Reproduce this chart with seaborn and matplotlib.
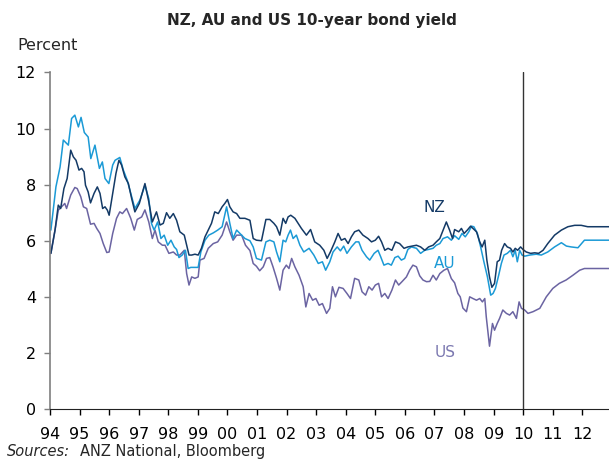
import pandas as pd
import matplotlib.pyplot as plt
import seaborn as sns

# NZ 10-year yield (decimal years)
nz_year = [1994.03, 1994.17, 1994.28, 1994.36, 1994.47, 1994.58, 1994.70, 1994.79, 1994.88, 1994.98,
           1995.07, 1995.15, 1995.20, 1995.29, 1995.37, 1995.49, 1995.60, 1995.69, 1995.78, 1995.86,
           1995.94, 1996.00, 1996.12, 1996.23, 1996.33, 1996.42, 1996.53, 1996.65, 1996.76, 1996.87,
           1997.02, 1997.21, 1997.34, 1997.46, 1997.60, 1997.72, 1997.83, 1997.94, 1998.05, 1998.17,
           1998.28, 1998.39, 1998.54, 1998.62, 1998.70, 1998.79, 1998.90, 1999.01, 1999.12, 1999.24,
           1999.35, 1999.46, 1999.57, 1999.69, 1999.82, 1999.91, 2000.00, 2000.08, 2000.19, 2000.31,
           2000.42, 2000.59, 2000.76, 2000.87, 2000.98, 2001.15, 2001.30, 2001.43, 2001.57, 2001.66,
           2001.77, 2001.88, 2001.97, 2002.05, 2002.14, 2002.28, 2002.39, 2002.50, 2002.67, 2002.81,
           2002.95, 2003.12, 2003.26, 2003.37, 2003.48, 2003.63, 2003.74, 2003.85, 2003.97, 2004.08,
           2004.19, 2004.30, 2004.44, 2004.58, 2004.75, 2004.87, 2005.00, 2005.11, 2005.21, 2005.32,
           2005.43, 2005.56, 2005.68, 2005.82, 2005.97, 2006.10, 2006.24, 2006.39, 2006.53, 2006.67,
           2006.80, 2006.95, 2007.06, 2007.18, 2007.29, 2007.40, 2007.51, 2007.61, 2007.68, 2007.82,
           2007.91, 2008.00, 2008.11, 2008.22, 2008.30, 2008.42, 2008.53, 2008.61, 2008.70, 2008.77,
           2008.86, 2008.94, 2009.03, 2009.12, 2009.20, 2009.27, 2009.37, 2009.46, 2009.57, 2009.65,
           2009.73, 2009.81, 2009.91, 2009.99, 2010.10, 2010.25, 2010.39, 2010.52, 2010.67, 2010.83,
           2011.06, 2011.29, 2011.51, 2011.74, 2011.96, 2012.18, 2012.90]
nz_yield = [5.55, 6.38, 7.27, 7.15, 7.86, 8.22, 9.23, 8.99, 8.87, 8.52,
            8.58, 8.46, 7.98, 7.74, 7.35, 7.69, 7.92, 7.69, 7.15, 7.21,
            7.09, 6.91, 7.69, 8.40, 8.87, 8.70, 8.28, 8.04, 7.51, 7.03,
            7.33, 8.04, 7.39, 6.67, 7.03, 6.56, 6.62, 7.00, 6.80, 6.97,
            6.73, 6.32, 6.20, 5.84, 5.49, 5.49, 5.52, 5.49, 5.73, 6.14,
            6.38, 6.62, 7.03, 6.97, 7.21, 7.33, 7.47, 7.21, 7.03, 6.97,
            6.80, 6.80, 6.73, 6.08, 6.02, 6.00, 6.76, 6.76, 6.62, 6.50,
            6.20, 6.80, 6.62, 6.85, 6.91, 6.80, 6.62, 6.44, 6.20, 6.40,
            5.96, 5.84, 5.66, 5.37, 5.60, 5.96, 6.26, 6.02, 6.08, 5.90,
            6.14, 6.32, 6.38, 6.20, 6.08, 5.96, 6.02, 6.16, 5.96, 5.66,
            5.73, 5.66, 5.96, 5.90, 5.73, 5.78, 5.81, 5.84, 5.78, 5.66,
            5.78, 5.84, 5.96, 6.08, 6.38, 6.67, 6.38, 6.08, 6.40, 6.32,
            6.44, 6.26, 6.38, 6.52, 6.44, 6.32, 5.96, 5.78, 6.02, 5.31,
            4.71, 4.34, 4.48, 5.25, 5.31, 5.66, 5.90, 5.78, 5.73, 5.60,
            5.73, 5.66, 5.78, 5.69, 5.60, 5.55, 5.57, 5.55, 5.66, 5.90,
            6.20, 6.38, 6.50, 6.55, 6.55, 6.50, 6.50]

# AU 10-year yield
au_year = [1994.03, 1994.20, 1994.34, 1994.45, 1994.62, 1994.73, 1994.84, 1994.96, 1995.05, 1995.16,
           1995.29, 1995.38, 1995.52, 1995.67, 1995.77, 1995.86, 1995.99, 1996.12, 1996.20, 1996.36,
           1996.48, 1996.61, 1996.73, 1996.87, 1997.04, 1997.21, 1997.34, 1997.43, 1997.52, 1997.64,
           1997.75, 1997.86, 1997.98, 1998.09, 1998.20, 1998.28, 1998.36, 1998.47, 1998.58, 1998.67,
           1998.76, 1998.87, 1999.01, 1999.10, 1999.24, 1999.37, 1999.52, 1999.67, 1999.82, 1999.97,
           2000.08, 2000.19, 2000.31, 2000.48, 2000.59, 2000.76, 2000.87, 2000.98, 2001.15, 2001.30,
           2001.43, 2001.57, 2001.66, 2001.77, 2001.88, 2001.97, 2002.05, 2002.13, 2002.22, 2002.33,
           2002.45, 2002.58, 2002.76, 2002.92, 2003.07, 2003.21, 2003.32, 2003.46, 2003.57, 2003.71,
           2003.82, 2003.93, 2004.04, 2004.19, 2004.34, 2004.44, 2004.55, 2004.70, 2004.81, 2004.96,
           2005.09, 2005.18, 2005.29, 2005.43, 2005.54, 2005.66, 2005.77, 2005.88, 2005.99, 2006.10,
           2006.22, 2006.39, 2006.53, 2006.67, 2006.80, 2006.95, 2007.06, 2007.18, 2007.29, 2007.44,
           2007.57, 2007.68, 2007.82, 2007.93, 2008.04, 2008.16, 2008.25, 2008.33, 2008.45, 2008.56,
           2008.67, 2008.79, 2008.90, 2008.98, 2009.06, 2009.17, 2009.26, 2009.35, 2009.46, 2009.57,
           2009.65, 2009.73, 2009.80, 2009.88, 2009.96, 2010.05, 2010.22, 2010.44, 2010.61, 2010.83,
           2011.06, 2011.29, 2011.46, 2011.62, 2011.85, 2012.07, 2012.90]
au_yield = [6.38, 7.92, 8.63, 9.59, 9.41, 10.36, 10.48, 10.06, 10.40, 9.86,
            9.70, 8.93, 9.41, 8.58, 8.81, 8.22, 8.04, 8.70, 8.87, 8.97,
            8.52, 8.16, 7.69, 7.15, 7.45, 7.98, 7.50, 6.62, 6.38, 6.67,
            6.08, 6.20, 5.84, 6.02, 5.78, 5.69, 5.40, 5.49, 5.66, 5.01,
            5.05, 5.05, 5.05, 5.60, 6.02, 6.20, 6.28, 6.38, 6.50, 7.21,
            6.62, 6.08, 6.38, 6.20, 6.08, 6.00, 5.78, 5.37, 5.31, 5.96,
            6.02, 5.96, 5.60, 5.25, 6.02, 5.96, 6.20, 6.38, 6.08, 6.20,
            5.84, 5.60, 5.73, 5.49, 5.19, 5.25, 4.95, 5.25, 5.60, 5.78,
            5.64, 5.81, 5.55, 5.78, 5.96, 5.96, 5.66, 5.43, 5.31, 5.55,
            5.66, 5.43, 5.13, 5.19, 5.13, 5.40, 5.45, 5.31, 5.37, 5.69,
            5.78, 5.73, 5.55, 5.66, 5.69, 5.73, 5.84, 5.90, 6.08, 6.14,
            6.02, 6.18, 6.05, 6.26, 6.14, 6.32, 6.52, 6.50, 6.26, 5.78,
            5.25, 4.71, 4.06, 4.12, 4.30, 4.77, 5.19, 5.49, 5.55, 5.66,
            5.43, 5.66, 5.25, 5.66, 5.49, 5.45, 5.49, 5.52, 5.49, 5.60,
            5.78, 5.93, 5.81, 5.78, 5.75, 6.02, 6.02]

# US 10-year yield
us_year = [1994.03, 1994.17, 1994.28, 1994.50, 1994.56, 1994.70, 1994.84, 1994.92, 1995.04, 1995.13,
           1995.24, 1995.37, 1995.49, 1995.58, 1995.69, 1995.80, 1995.92, 1996.00, 1996.12, 1996.25,
           1996.36, 1996.45, 1996.59, 1996.73, 1996.85, 1996.95, 1997.10, 1997.21, 1997.34, 1997.46,
           1997.55, 1997.66, 1997.80, 1997.89, 1998.02, 1998.17, 1998.28, 1998.39, 1998.54, 1998.62,
           1998.70, 1998.79, 1998.90, 1999.01, 1999.07, 1999.21, 1999.35, 1999.52, 1999.67, 1999.82,
           1999.97, 2000.08, 2000.19, 2000.31, 2000.48, 2000.61, 2000.76, 2000.87, 2000.98, 2001.09,
           2001.21, 2001.32, 2001.43, 2001.54, 2001.66, 2001.77, 2001.88, 2001.99, 2002.08, 2002.17,
           2002.28, 2002.42, 2002.56, 2002.65, 2002.76, 2002.88, 2002.99, 2003.10, 2003.21, 2003.35,
           2003.46, 2003.55, 2003.65, 2003.77, 2003.91, 2004.04, 2004.16, 2004.30, 2004.44, 2004.55,
           2004.67, 2004.78, 2004.89, 2005.00, 2005.11, 2005.21, 2005.32, 2005.43, 2005.56, 2005.68,
           2005.79, 2005.90, 2006.05, 2006.16, 2006.27, 2006.39, 2006.50, 2006.61, 2006.73, 2006.84,
           2006.95, 2007.06, 2007.18, 2007.32, 2007.44, 2007.57, 2007.68, 2007.79, 2007.87, 2007.96,
           2008.08, 2008.19, 2008.30, 2008.42, 2008.53, 2008.62, 2008.70, 2008.75, 2008.81, 2008.86,
           2008.96, 2009.03, 2009.12, 2009.20, 2009.31, 2009.43, 2009.54, 2009.65, 2009.77, 2009.86,
           2009.94, 2010.05, 2010.16, 2010.33, 2010.56, 2010.78, 2011.00, 2011.22, 2011.45, 2011.68,
           2011.91, 2012.07, 2012.90]
us_yield = [5.55, 6.38, 7.09, 7.33, 7.15, 7.63, 7.90, 7.86, 7.57, 7.21,
            7.15, 6.59, 6.62, 6.44, 6.26, 5.90, 5.58, 5.60, 6.26, 6.80,
            7.03, 6.97, 7.15, 6.80, 6.38, 6.76, 6.85, 7.10, 6.67, 6.08,
            6.38, 5.96, 5.84, 5.84, 5.55, 5.60, 5.49, 5.49, 5.66, 4.83,
            4.42, 4.71, 4.66, 4.71, 5.31, 5.37, 5.73, 5.90, 5.96, 6.20,
            6.67, 6.32, 6.02, 6.20, 6.20, 5.84, 5.65, 5.19, 5.09, 4.93,
            5.07, 5.37, 5.40, 5.07, 4.66, 4.24, 4.95, 5.13, 5.01, 5.37,
            5.07, 4.77, 4.36, 3.64, 4.12, 3.88, 3.94, 3.70, 3.76, 3.41,
            3.59, 4.36, 4.00, 4.34, 4.30, 4.12, 3.94, 4.66, 4.60, 4.18,
            4.06, 4.36, 4.24, 4.42, 4.48, 4.00, 4.12, 3.94, 4.24, 4.60,
            4.42, 4.54, 4.71, 4.95, 5.13, 5.07, 4.75, 4.60, 4.54, 4.55,
            4.77, 4.60, 4.83, 4.95, 5.01, 4.65, 4.50, 4.12, 4.00, 3.60,
            3.47, 4.00, 3.94, 3.88, 3.94, 3.82, 3.94, 3.29, 2.70, 2.24,
            3.05, 2.81, 3.05, 3.23, 3.53, 3.41, 3.35, 3.47, 3.23, 3.82,
            3.59, 3.53, 3.41, 3.47, 3.59, 4.00, 4.30, 4.48, 4.60, 4.77,
            4.95, 5.01, 5.01]

year_ticks = list(range(1994, 2013))
year_labels = [f"{y % 100:02d}" for y in year_ticks]
forecast_start = 2010.0

nz_col = "#143a66"
au_col = "#1b9ad6"
us_col = "#6b64a2"

sns.set_style("ticks")
plt.rcParams['font.family'] = ['DejaVu Sans']

fig = plt.figure(figsize=(6.09, 4.61), dpi=100)
ax = fig.add_axes([50 / 609, 52 / 461, 559 / 609, 336.5 / 461])

df_nz = pd.DataFrame({"year": nz_year, "yield": nz_yield})
df_au = pd.DataFrame({"year": au_year, "yield": au_yield})
df_us = pd.DataFrame({"year": us_year, "yield": us_yield})

sns.lineplot(data=df_us, x="year", y="yield", color=us_col, linewidth=1.1, ax=ax)
sns.lineplot(data=df_au, x="year", y="yield", color=au_col, linewidth=1.1, ax=ax)
sns.lineplot(data=df_nz, x="year", y="yield", color=nz_col, linewidth=1.1, ax=ax)

ax.axvline(forecast_start, color="#333333", linewidth=1.0)

ax.set_xlim(1994, 2012.9)
ax.set_ylim(0, 12)
ax.set_xticks(year_ticks)
ax.set_xticklabels(year_labels)
ax.set_yticks(range(0, 13, 2))
ax.set_xlabel("")
ax.set_ylabel("")
ax.tick_params(axis="both", labelsize=11.5, length=4, width=1, colors="black")
ax.tick_params(axis="x", pad=9)
ax.tick_params(axis="y", color="#7f7f7f", pad=6)

sns.despine(ax=ax, top=True, right=True)
ax.spines["left"].set_color("#7f7f7f")
ax.spines["left"].set_linewidth(1.2)
ax.spines["bottom"].set_color("#222222")

ax.text(2007.0, 7.2, "NZ", color=nz_col, fontsize=11, ha="center", va="center")
ax.text(2007.35, 5.2, "AU", color=au_col, fontsize=11, ha="center", va="center")
ax.text(2007.35, 2.03, "US", color="#7b78b0", fontsize=11, ha="center", va="center")

fig.text(312 / 609, 1 - 21 / 461, "NZ, AU and US 10-year bond yield",
         fontsize=11, fontweight="bold", ha="center", va="center")
fig.text(17 / 609, 1 - 45 / 461, "Percent", fontsize=11.5, ha="left", va="center")
fig.text(7 / 609, 1 - 451 / 461, "Sources:", fontsize=10.5, style="italic",
         ha="left", va="center")
fig.text(80 / 609, 1 - 451 / 461, "ANZ National, Bloomberg", fontsize=10.5,
         ha="left", va="center")

fig.savefig("out.png", dpi=100)
